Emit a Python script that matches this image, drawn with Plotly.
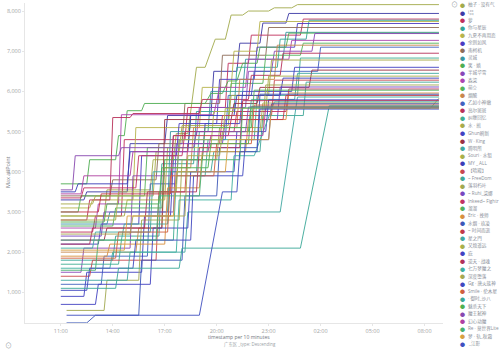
import plotly.graph_objects as go
from datetime import datetime, timedelta

# ---- series (legend order = max allPoint, descending) ----
names = ["柚子 · 没有气", "i吕", "萝", "你与星辰", "九夏不再用恋", "余则如风", "南柯机", "灵城",
         "笑 · 嬉", "半城华雪", "森柒", "萌☆", "烟酸", "乙如小神嫩", "高尔斑斑", "纠缠回忆",
         "水 · 煎", "Ghun刷新", "W · King", "腾明所", "Souri · 水狙", "MY _ ALL", "【暗殿】",
         "~ FreeDom", "落羽朽叶", "~ Ruhi_柒娜", "Inkeed~ Fightr", "溜溜", "Eric · 挽师",
         "水烟 · 玖凌", "~ 时间而逝", "星之門", "又烦遥远", "庇", "逆天 · 战魂", "七万梦魔之",
         "深度堕落", "Gg · 唐火族神", "Smile · 伦木星", "· 御时_沙八", "魅杀天下", "魔王弑神",
         "幻心动魔", "Re · 莫世界Lite", "梦 · 轨_秋霜", "_江影"]

colors = ["#a3ab4c", "#3d3aa6", "#c0305c", "#33a596", "#b8b44c", "#4b3cc2", "#8e6c58", "#3a97a2",
          "#4fae52", "#8a48b8", "#ad45b0", "#55b45c", "#c9874c", "#4262c0", "#b9325a", "#3fae92",
          "#a9ab4a", "#4242c2", "#9b3042", "#3fa8a0", "#a9b04a", "#3b3db8", "#c9484f", "#40a898",
          "#a2a950", "#7848c0", "#c23362", "#52b060", "#d8903f", "#3d58b8", "#c23a48", "#40a8a2",
          "#a9b04a", "#4242c2", "#b1325a", "#3fb0a0", "#a8a850", "#4048c0", "#d06040", "#3aa898",
          "#50b050", "#8848b0", "#b040a2", "#48b070", "#d8a040", "#4050c0"]

# (time, max allPoint) samples; times before 10:00 fall on the next day
pts_00 = [("11:00", 2900), ("13:30", 2900), ("13:40", 3550), ("16:10", 3550), ("16:20", 4300), ("17:30", 4300), ("17:40", 4950), ("18:20", 4950), ("18:50", 6600), ("19:20", 6600), ("19:55", 7300), ("20:30", 7300), ("20:50", 7900), ("21:30", 7900), ("21:50", 8000), ("23:00", 8000), ("23:20", 8080), ("00:20", 8080), ("00:40", 8160), ("08:50", 8160)]
pts_01 = [("11:00", 3300), ("12:20", 3300), ("12:30", 3500), ("14:50", 3500), ("15:00", 4700), ("17:00", 4700), ("17:10", 5400), ("19:40", 5400), ("19:50", 6500), ("21:10", 6500), ("21:20", 7200), ("22:30", 7200), ("22:40", 7700), ("00:00", 7700), ("00:10", 7940), ("08:50", 7940)]
pts_02 = [("11:00", 2500), ("12:50", 2500), ("13:00", 2900), ("14:30", 2900), ("14:40", 4800), ("18:10", 4800), ("18:20", 5600), ("20:30", 5600), ("20:40", 6700), ("21:50", 6700), ("22:00", 7400), ("00:50", 7400), ("01:00", 7800), ("08:50", 7800)]
pts_03 = [("11:00", 1800), ("14:00", 1800), ("14:10", 2400), ("16:40", 2400), ("16:50", 4200), ("18:40", 4200), ("18:50", 5500), ("21:00", 5500), ("21:10", 6600), ("23:30", 6600), ("23:40", 7300), ("01:10", 7300), ("01:20", 7770), ("08:50", 7770)]
pts_04 = [("11:00", 3100), ("12:40", 3100), ("12:50", 3300), ("15:10", 3300), ("15:20", 5100), ("19:00", 5100), ("19:10", 6100), ("20:50", 6100), ("21:00", 7000), ("22:20", 7000), ("22:30", 7740), ("08:50", 7740)]
pts_05 = [("11:00", 2200), ("13:10", 2200), ("13:20", 2700), ("15:30", 2700), ("15:40", 4400), ("17:40", 4400), ("17:50", 5200), ("20:00", 5200), ("20:10", 6300), ("22:10", 6300), ("22:20", 7100), ("00:30", 7100), ("00:40", 7690), ("08:50", 7690)]
pts_06 = [("11:00", 3400), ("13:50", 3400), ("14:00", 3800), ("16:30", 3800), ("16:40", 4700), ("18:00", 4700), ("18:10", 5700), ("20:10", 5700), ("20:20", 6900), ("22:50", 6900), ("23:00", 7590), ("08:50", 7590)]
pts_07 = [("11:00", 2700), ("13:40", 2700), ("13:50", 3000), ("17:10", 3000), ("17:20", 5000), ("19:30", 5000), ("19:40", 6000), ("21:30", 6000), ("21:40", 6800), ("23:50", 6800), ("00:00", 7470), ("08:50", 7470)]
pts_08 = [("11:00", 3700), ("12:30", 3700), ("12:40", 4300), ("14:10", 4300), ("14:20", 4900), ("14:40", 4900), ("14:50", 5520), ("15:40", 5520), ("15:50", 5700), ("19:20", 5700), ("19:40", 5950), ("20:20", 5950), ("20:40", 6260), ("21:10", 6260), ("21:30", 6700), ("22:20", 6700), ("22:30", 7100), ("00:00", 7100), ("00:10", 7450), ("08:50", 7450)]
pts_09 = [("11:00", 1500), ("12:10", 1500), ("12:20", 2100), ("15:00", 2100), ("15:10", 3900), ("17:20", 3900), ("17:30", 4900), ("18:50", 4900), ("19:00", 5600), ("21:40", 5600), ("21:50", 6500), ("23:10", 6500), ("23:20", 7000), ("01:30", 7000), ("01:40", 7440), ("08:50", 7440)]
pts_10 = [("11:00", 2600), ("13:00", 2600), ("13:10", 3200), ("14:20", 3200), ("14:30", 5420), ("19:50", 5420), ("20:10", 6100), ("21:40", 6100), ("21:50", 6800), ("00:10", 6800), ("00:20", 7270), ("08:50", 7270)]
pts_11 = [("11:00", 3000), ("12:00", 3000), ("12:10", 3400), ("15:50", 3400), ("16:00", 4600), ("18:20", 4600), ("18:30", 5300), ("20:40", 5300), ("20:50", 6200), ("22:40", 6200), ("22:50", 6900), ("00:50", 6900), ("01:00", 7200), ("08:50", 7200)]
pts_12 = [("11:00", 2000), ("15:20", 2000), ("15:30", 2600), ("16:50", 2600), ("17:00", 4100), ("18:30", 4100), ("18:40", 5100), ("21:10", 5100), ("21:20", 6300), ("23:20", 6300), ("23:30", 7150), ("08:50", 7150)]
pts_13 = [("11:00", 1200), ("13:20", 1200), ("13:30", 1900), ("16:00", 1900), ("16:10", 3700), ("17:40", 3700), ("17:50", 4800), ("20:30", 4800), ("20:40", 5900), ("22:00", 5900), ("22:10", 6500), ("01:50", 6500), ("02:00", 7100), ("08:50", 7100)]
pts_14 = [("11:00", 2800), ("12:30", 2800), ("12:40", 3300), ("13:50", 3300), ("14:00", 5350), ("15:00", 5350), ("15:10", 5450), ("19:00", 5450), ("19:10", 5800), ("21:50", 5800), ("22:00", 6400), ("23:40", 6400), ("23:50", 6950), ("08:50", 6950)]
pts_15 = [("11:00", 1700), ("14:20", 1700), ("14:30", 2300), ("17:30", 2300), ("17:40", 3900), ("19:20", 3900), ("19:30", 4800), ("22:10", 4800), ("22:20", 5900), ("00:40", 5900), ("00:50", 6830), ("08:50", 6830)]
pts_16 = [("11:00", 3200), ("12:50", 3200), ("13:00", 3400), ("16:20", 3400), ("16:30", 4500), ("17:50", 4500), ("18:00", 5150), ("20:40", 5150), ("20:50", 5900), ("23:00", 5900), ("23:10", 6780), ("08:50", 6780)]
pts_17 = [("11:00", 900), ("12:20", 900), ("12:30", 1500), ("15:40", 1500), ("15:50", 2900), ("17:20", 2900), ("17:30", 4300), ("19:10", 4300), ("19:20", 5200), ("21:20", 5200), ("21:30", 6000), ("00:20", 6000), ("00:30", 6600), ("08:50", 6600)]
pts_18 = [("11:00", 2300), ("13:30", 2300), ("13:40", 2600), ("16:50", 2600), ("17:00", 5300), ("20:50", 5300), ("21:00", 5700), ("22:20", 5700), ("22:30", 6100), ("01:20", 6100), ("01:30", 6530), ("08:50", 6530)]
pts_19 = [("11:00", 2100), ("12:50", 2100), ("13:00", 2500), ("16:10", 2500), ("16:20", 4000), ("18:50", 4000), ("19:00", 5000), ("21:50", 5000), ("22:00", 5800), ("00:30", 5800), ("00:40", 6450), ("08:50", 6450)]
pts_20 = [("11:00", 2900), ("14:40", 2900), ("14:50", 3300), ("17:00", 3300), ("17:10", 4600), ("19:40", 4600), ("19:50", 5500), ("22:50", 5500), ("23:00", 6380), ("08:50", 6380)]
pts_21 = [("11:00", 3500), ("11:50", 3500), ("12:00", 3700), ("14:50", 3700), ("15:00", 4500), ("18:20", 4500), ("18:30", 5400), ("21:00", 5400), ("21:10", 5900), ("23:40", 5900), ("23:50", 6330), ("08:50", 6330)]
pts_22 = [("11:00", 1400), ("12:40", 1400), ("12:50", 1800), ("16:30", 1800), ("16:40", 3500), ("18:10", 3500), ("18:20", 4700), ("20:10", 4700), ("20:20", 5400), ("23:10", 5400), ("23:20", 6280), ("08:50", 6280)]
pts_23 = [("11:00", 2300), ("14:30", 2300), ("14:40", 2700), ("17:10", 2700), ("17:20", 4000), ("19:40", 4000), ("19:50", 4500), ("22:30", 4500), ("22:40", 5400), ("01:00", 5400), ("01:10", 6230), ("08:50", 6230)]
pts_24 = [("11:20", 550), ("13:30", 550), ("13:40", 1300), ("15:30", 1300), ("15:40", 2800), ("17:50", 2800), ("18:00", 4300), ("20:00", 4300), ("20:10", 5100), ("22:40", 5100), ("22:50", 6160), ("08:50", 6160)]
pts_25 = [("11:00", 2400), ("13:20", 2400), ("13:30", 3000), ("17:30", 3000), ("17:40", 4700), ("20:20", 4700), ("20:30", 5300), ("23:30", 5300), ("23:40", 6110), ("08:50", 6110)]
pts_26 = [("11:00", 3350), ("12:10", 3350), ("12:20", 3600), ("15:20", 3600), ("15:30", 4400), ("18:00", 4400), ("18:10", 5000), ("21:00", 5000), ("21:10", 5500), ("00:00", 5500), ("00:10", 6060), ("08:50", 6060)]
pts_27 = [("11:00", 2650), ("14:00", 2650), ("14:10", 3100), ("16:50", 3100), ("17:00", 4300), ("19:10", 4300), ("19:20", 5100), ("22:00", 5100), ("22:10", 6030), ("08:50", 6030)]
pts_28 = [("11:00", 1900), ("13:40", 1900), ("13:50", 2200), ("17:00", 2200), ("17:10", 3600), ("19:00", 3600), ("19:10", 4500), ("21:40", 4500), ("21:50", 5300), ("00:00", 5300), ("00:10", 5960), ("08:50", 5960)]
pts_29 = [("11:20", 240), ("12:30", 240), ("13:00", 430), ("15:30", 430), ("15:40", 1800), ("18:00", 1800), ("18:10", 3400), ("20:00", 3400), ("20:10", 4600), ("22:20", 4600), ("22:30", 5930), ("08:50", 5930)]
pts_30 = [("11:00", 3000), ("13:10", 3000), ("13:20", 3450), ("17:20", 3450), ("17:30", 4900), ("20:40", 4900), ("20:50", 5300), ("23:50", 5300), ("00:00", 5900), ("08:50", 5900)]
pts_31 = [("11:00", 1300), ("14:50", 1300), ("15:00", 2000), ("18:10", 2000), ("18:20", 3000), ("23:40", 3000), ("00:40", 5860), ("08:50", 5860)]
pts_32 = [("11:00", 2800), ("14:10", 2800), ("14:20", 3500), ("17:40", 3500), ("17:50", 4800), ("20:20", 4800), ("20:30", 5580), ("08:20", 5580), ("08:50", 5830)]
pts_33 = [("11:00", 700), ("13:00", 700), ("13:10", 1200), ("16:10", 1200), ("16:20", 2600), ("18:20", 2600), ("18:30", 4000), ("21:00", 4000), ("21:10", 5000), ("22:50", 5000), ("23:00", 5790), ("08:50", 5790)]
pts_34 = [("11:00", 2200), ("12:40", 2200), ("12:50", 2600), ("15:50", 2600), ("16:00", 3500), ("18:50", 3500), ("19:00", 4600), ("21:20", 4600), ("21:30", 5770), ("08:50", 5770)]
pts_35 = [("11:00", 1600), ("13:50", 1600), ("14:00", 2000), ("17:40", 2000), ("17:50", 3300), ("20:50", 3300), ("21:00", 4400), ("22:10", 4400), ("23:20", 5740), ("08:50", 5740)]
pts_36 = [("11:00", 2450), ("15:00", 2450), ("15:10", 2900), ("18:10", 2900), ("18:20", 4400), ("20:10", 4400), ("20:20", 5000), ("22:30", 5000), ("22:40", 5710), ("08:50", 5710)]
pts_37 = [("11:00", 1050), ("12:30", 1050), ("12:40", 1600), ("15:10", 1600), ("15:20", 2300), ("18:30", 2300), ("18:40", 3900), ("21:30", 3900), ("21:40", 4800), ("23:00", 4800), ("23:10", 5690), ("08:50", 5690)]
pts_38 = [("11:00", 1850), ("14:10", 1850), ("14:20", 2500), ("17:10", 2500), ("17:20", 3900), ("19:50", 3900), ("20:00", 4700), ("22:00", 4700), ("22:10", 5660), ("08:50", 5660)]
pts_39 = [("11:00", 1100), ("14:10", 1100), ("14:20", 1600), ("17:50", 1600), ("18:00", 2100), ("00:50", 2100), ("02:30", 5640), ("08:50", 5640)]
pts_40 = [("11:00", 2750), ("13:30", 2750), ("13:40", 3200), ("16:40", 3200), ("16:50", 4100), ("19:30", 4100), ("19:40", 4700), ("21:50", 4700), ("22:00", 5620), ("08:50", 5620)]
pts_41 = [("11:00", 3550), ("11:40", 3550), ("11:50", 4400), ("14:20", 4400), ("14:30", 4600), ("18:40", 4600), ("18:50", 5000), ("21:40", 5000), ("21:50", 5610), ("08:50", 5610)]
pts_42 = [("11:00", 3450), ("12:10", 3450), ("12:20", 3900), ("15:00", 3900), ("15:10", 4500), ("19:30", 4500), ("19:40", 4900), ("22:40", 4900), ("22:50", 5600), ("08:50", 5600)]
pts_43 = [("11:00", 1550), ("13:00", 1550), ("13:10", 2300), ("16:30", 2300), ("16:40", 3400), ("19:00", 3400), ("19:10", 4300), ("21:20", 4300), ("21:30", 5590), ("08:50", 5590)]
pts_44 = [("11:00", 2050), ("14:40", 2050), ("14:50", 2900), ("17:30", 2900), ("17:40", 4000), ("20:30", 4000), ("20:40", 4800), ("23:00", 4800), ("23:10", 5580), ("08:50", 5580)]
pts_45 = [("11:20", 430), ("19:00", 430), ("20:20", 3500), ("21:10", 3500), ("21:20", 4500), ("22:20", 4500), ("22:30", 5560), ("08:50", 5560)]

series_points = [pts_00, pts_01, pts_02, pts_03, pts_04, pts_05, pts_06, pts_07, pts_08, pts_09,
                 pts_10, pts_11, pts_12, pts_13, pts_14, pts_15, pts_16, pts_17, pts_18, pts_19,
                 pts_20, pts_21, pts_22, pts_23, pts_24, pts_25, pts_26, pts_27, pts_28, pts_29,
                 pts_30, pts_31, pts_32, pts_33, pts_34, pts_35, pts_36, pts_37, pts_38, pts_39,
                 pts_40, pts_41, pts_42, pts_43, pts_44, pts_45]

y_ticks = [1000, 2000, 3000, 4000, 5000, 6000, 7000, 8000]

DAY0 = datetime(2020, 5, 1)


def at(hm):
    h, m = map(int, hm.split(":"))
    d = DAY0 + timedelta(hours=h, minutes=m)
    if h < 10:
        d += timedelta(days=1)
    return d


W, H = 500, 350
L, R, T, B = 25, 443, 3, 323   # plot box in pixels
FONT = "Open Sans, Noto Sans CJK SC, sans-serif"
TICK_GREY = "#a3a3a3"

fig = go.Figure()
for name, col, pts in zip(names, colors, series_points):
    fig.add_trace(go.Scatter(
        x=[at(t) for t, _ in pts], y=[v for _, v in pts],
        mode="lines", name=name, line=dict(color=col, width=1),
        opacity=0.9, showlegend=False))


def px(x):
    return (x - L) / (R - L)


def py(y):
    return (B - y) / (B - T)


ann = []
# legend column
for i, (name, col) in enumerate(zip(names, colors)):
    yy = 5 + 7.53 * i
    ann.append(dict(x=px(462.5), y=py(yy), xref="paper", yref="paper", text="●",
                    showarrow=False, font=dict(size=5, color=col, family=FONT),
                    xanchor="center", yanchor="middle"))
    ann.append(dict(x=px(466), y=py(yy), xref="paper", yref="paper", text=name,
                    showarrow=False, font=dict(size=4.6, color="#8a8f99", family=FONT),
                    xanchor="left", yanchor="middle"))
ann.append(dict(x=px(454), y=py(5), xref="paper", yref="paper", text="⊙",
                showarrow=False, font=dict(size=7, color="#9aa0a8", family=FONT),
                xanchor="center", yanchor="middle"))
ann.append(dict(x=px(8), y=py(345), xref="paper", yref="paper", text="⊙",
                showarrow=False, font=dict(size=7, color="#9aa0a8", family=FONT),
                xanchor="center", yanchor="middle"))
# axis titles
ann.append(dict(x=px(8), y=py(172), xref="paper", yref="paper", text="Max allPoint",
                textangle=-90, showarrow=False,
                font=dict(size=5.5, color="#7d828a", family=FONT),
                xanchor="center", yanchor="middle"))
ann.append(dict(x=px(239), y=py(337), xref="paper", yref="paper",
                text="timestamp per 10 minutes", showarrow=False,
                font=dict(size=5, color="#6f747c", family=FONT),
                xanchor="center", yanchor="middle"))
ann.append(dict(x=px(250), y=py(344.5), xref="paper", yref="paper",
                text="广东区 _type: Descending", showarrow=False,
                font=dict(size=4.4, color="#9a9fa6", family=FONT),
                xanchor="center", yanchor="middle"))

fig.update_layout(
    width=W, height=H,
    margin=dict(l=L, r=W - R, t=T, b=H - B, pad=0),
    paper_bgcolor="white", plot_bgcolor="white",
    font=dict(family=FONT, size=6, color=TICK_GREY),
    annotations=ann,
    xaxis=dict(
        type="date",
        range=[datetime(2020, 5, 1, 8, 56), datetime(2020, 5, 2, 9, 4)],
        tick0=datetime(2020, 5, 1, 11, 0), dtick=3 * 3600 * 1000,
        tickformat="%H:%M", tickfont=dict(size=5.5, color=TICK_GREY),
        showgrid=False, zeroline=False, showline=True, linecolor="#e6e6e6",
        ticks="outside", ticklen=2, tickcolor="#e6e6e6"),
    yaxis=dict(
        range=[237, 8200], tickvals=y_ticks, tickformat=",d",
        tickfont=dict(size=5.5, color=TICK_GREY),
        showgrid=False, zeroline=False, showline=True, linecolor="#e6e6e6",
        ticks="outside", ticklen=2, tickcolor="#e6e6e6"),
)

fig.write_html("out.html")
